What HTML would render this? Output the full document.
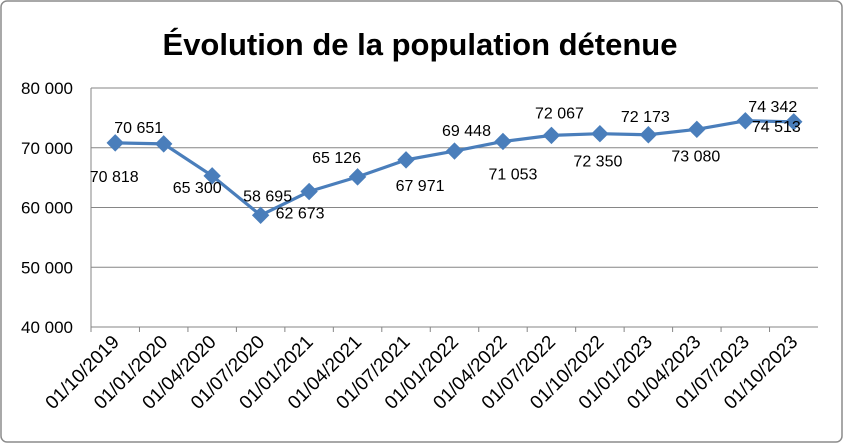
<!DOCTYPE html>
<html><head><meta charset="utf-8"><style>
body{margin:0;background:#fff;}
svg{display:block;font-family:"Liberation Sans",sans-serif;}
</style></head><body>
<svg width="843" height="443" viewBox="0 0 843 443" xmlns="http://www.w3.org/2000/svg">
<rect x="1" y="1" width="841" height="441" rx="6" fill="#fff" stroke="#8c8c8c" stroke-width="1.5"/>
<text x="420" y="55" text-anchor="middle" font-size="31" font-weight="bold" fill="#000">Évolution de la population détenue</text>
<g id="grid"></g><g id="yaxis"></g><g id="xaxis"></g><g id="series"></g><g id="labels"></g>
</svg>
<script>
const categories=["01/10/2019","01/01/2020","01/04/2020","01/07/2020","01/01/2021","01/04/2021","01/07/2021","01/01/2022","01/04/2022","01/07/2022","01/10/2022","01/01/2023","01/04/2023","01/07/2023","01/10/2023"];
const values=[70818,70651,65300,58695,62673,65126,67971,69448,71053,72067,72350,72173,73080,74513,74342];
const yTicks=[40000,50000,60000,70000,80000];
const labelDx=[-1,-25,-15,7,-9,-21,14,12,10,8,-2,-3,-1,31,-21];
const labelDy=[39,-11,17,-14,27,-14,31,-15,38,-17,33,-13,32,11,-10];
const NS="http://www.w3.org/2000/svg";
const L=91,R=818,T=88,B=327,yMin=40000,yMax=80000;
const bw=(R-L)/categories.length;
const x=i=>L+bw*(i+0.5);
const y=v=>B-(v-yMin)/(yMax-yMin)*(B-T);
const fmt=v=>String(v).replace(/\B(?=(\d{3})+(?!\d))/g," ");
function mk(tag,attrs,parent){const e=document.createElementNS(NS,tag);for(const k in attrs)e.setAttribute(k,attrs[k]);parent.appendChild(e);return e;}
const grid=document.getElementById('grid'),ya=document.getElementById('yaxis'),xa=document.getElementById('xaxis'),se=document.getElementById('series'),lb=document.getElementById('labels');
yTicks.forEach(t=>{
 const g=mk('line',{x1:L,x2:R,y1:y(t),y2:y(t),stroke:'#868686','stroke-width':1},grid);
 
 
 const tx=mk('text',{x:L-18,y:y(t)+6,'text-anchor':'end','font-size':17,fill:'#000'},ya);
 tx.textContent=fmt(t);
 
 
});
const ax=mk('line',{x1:L,x2:L,y1:T,y2:B,stroke:'#868686'},ya);


const bx=mk('line',{x1:L,x2:R,y1:B,y2:B,stroke:'#868686'},xa);


categories.forEach((c,i)=>{
 const tk=mk('line',{x1:L+bw*i,x2:L+bw*i,y1:B,y2:B+5,stroke:'#868686'},xa);
 
 
 const cx=x(i)+5,cy=B+16;
 const t=mk('text',{x:cx,y:cy,'text-anchor':'end','font-size':19,fill:'#000',transform:`rotate(-45 ${cx} ${cy})`},xa);
 t.textContent=c;
 
 
});
const line=mk('polyline',{points:values.map((v,i)=>x(i)+','+y(v)).join(' '),fill:'none',stroke:'#4a7ebb','stroke-width':3.2,'stroke-linejoin':'round'},se);


values.forEach((v,i)=>{
 const px=x(i),py=y(v),s=8;
 const m=mk('polygon',{points:`${px},${py-s} ${px+s},${py} ${px},${py+s} ${px-s},${py}`,fill:'#4a7ebb',stroke:'#4a7ebb'},se);
 
 
 const t=mk('text',{x:px+labelDx[i],y:py+labelDy[i],'text-anchor':'middle','font-size':16,fill:'#000'},lb);
 t.textContent=fmt(v);
 
 
});
</script>
</body></html>
